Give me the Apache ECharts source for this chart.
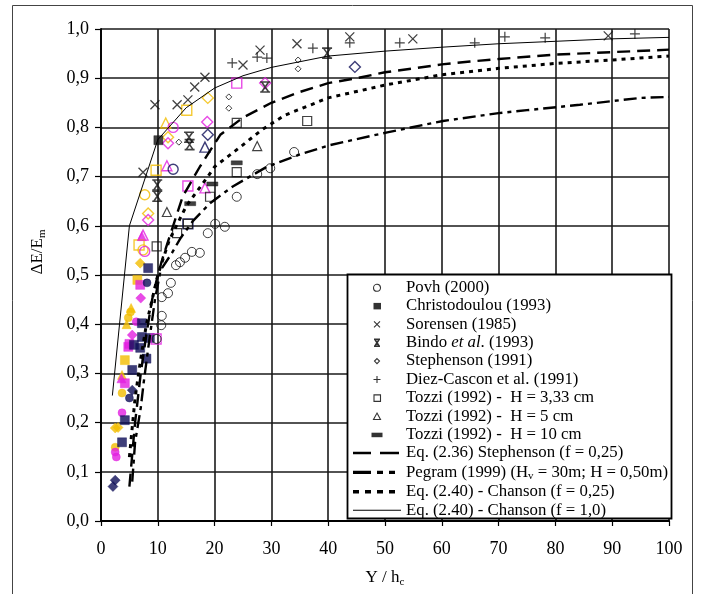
<!DOCTYPE html>
<html>
<head>
<meta charset="utf-8">
<script src="https://cdn.jsdelivr.net/npm/echarts/dist/echarts.min.js"></script>
<style>
  html, body { margin: 0; padding: 0; background: #fff; }
  #chart { width: 703px; height: 594px; }
</style>
</head>
<body>
<div id="chart"></div>
<script>
// Axis tick labels (decimal comma)
const xTickLabels = ['0','10','20','30','40','50','60','70','80','90','100'];
const yTickLabels = ['0,0','0,1','0,2','0,3','0,4','0,5','0,6','0,7','0,8','0,9','1,0'];

// Measured points [Y/hc, dE/Em]
const povh = [[9.8,0.37],[10.6,0.398],[10.7,0.417],[10.7,0.455],[11.8,0.463],[12.3,0.484],[13.2,0.52],[13.9,0.526],[14.8,0.535],[16.0,0.547],[17.4,0.545],[18.8,0.585],[20.1,0.604],[21.8,0.598],[23.9,0.659],[27.5,0.705],[29.8,0.717],[34.0,0.75]];
const christodoulou = [[10.1,0.774]];
const sorensen = [[7.4,0.709],[9.5,0.846],[13.4,0.846],[15.3,0.856],[16.5,0.882],[18.3,0.902],[25.0,0.927],[28.0,0.957],[34.5,0.97],[43.8,0.984],[54.9,0.98],[89.3,0.986]];
const bindo = [[9.9,0.683],[9.9,0.66],[15.5,0.78],[15.6,0.765],[28.9,0.882],[39.8,0.951]];
const stephenson1991 = [[13.7,0.77],[22.5,0.862],[22.5,0.839],[34.7,0.937],[34.7,0.919]];
const diezCascon = [[23.1,0.931],[27.5,0.943],[29.2,0.941],[37.3,0.961],[43.8,0.972],[52.6,0.972],[65.8,0.972],[71.1,0.984],[78.2,0.982],[94.0,0.99]];
const tozzi333 = [[9.8,0.558],[13.4,0.585],[15.3,0.604],[19.2,0.659],[23.9,0.709],[23.9,0.809],[36.3,0.813]];
const tozzi5 = [[11.6,0.628],[27.5,0.762]];
const tozzi10 = [[23.9,0.728],[19.6,0.685],[15.7,0.645]];

// Coloured step data
const goldFilledCircles = [[4.8,0.413],[3.7,0.26],[2.5,0.15],[5.2,0.425]];
const goldFilledSquares = [[4.2,0.327],[6.4,0.49]];
const goldFilledTriangles = [[5.3,0.433],[3.7,0.297],[4.5,0.4]];
const goldFilledDiamonds = [[6.9,0.524],[2.5,0.189],[3.0,0.19]];
const magentaFilledSquares = [[6.9,0.48],[4.8,0.354],[4.2,0.28],[5.0,0.36]];
const magentaFilledDiamonds = [[7.0,0.453],[5.5,0.378]];
const magentaFilledCircles = [[3.7,0.22],[2.5,0.14],[2.7,0.13],[6.2,0.405]];
const magentaFilledTriangles = [[7.2,0.579],[3.6,0.29]];
const navyFilledSquares = [[8.3,0.514],[7.2,0.374],[8.6,0.372],[6.9,0.352],[5.5,0.307],[5.8,0.358],[7.2,0.402],[4.2,0.205],[3.7,0.16],[8.0,0.33]];
const navyFilledCircles = [[8.1,0.484],[5.0,0.25]];
const navyFilledDiamonds = [[5.5,0.266],[2.5,0.083],[2.1,0.07]];
const goldOpenSquares = [[9.7,0.713],[15.1,0.835],[6.7,0.561]];
const goldOpenDiamonds = [[18.8,0.86],[11.8,0.78],[8.3,0.625]];
const goldOpenCircles = [[7.7,0.663],[7.4,0.551]];
const goldOpenTriangles = [[11.4,0.809]];
const magentaOpenSquares = [[23.9,0.89],[15.3,0.681],[9.7,0.37]];
const magentaOpenDiamonds = [[18.7,0.811],[11.8,0.768],[8.3,0.612],[28.9,0.89]];
const magentaOpenCircles = [[12.7,0.8],[7.7,0.548]];
const magentaOpenTriangles = [[11.6,0.722],[18.3,0.677],[7.4,0.581]];
const navyOpenDiamonds = [[18.8,0.785],[44.7,0.923]];
const navyOpenTriangles = [[18.3,0.76]];
const navyOpenCircles = [[12.7,0.715]];
const navyOpenSquares = [[15.3,0.604]];

// Equation curves
const eq236Stephenson = [[5,0.07],[6,0.2],[7,0.3],[8,0.38],[9,0.45],[10,0.5],[11,0.54],[12.7,0.6],[14.4,0.66],[17.4,0.72],[21,0.785],[25,0.82],[30,0.85],[35,0.872],[40,0.89],[45,0.9],[50,0.912],[55,0.92],[60,0.928],[65,0.934],[70,0.939],[80,0.948],[90,0.953],[100,0.958]];
const pegram1999 = [[5.5,0.08],[6,0.16],[7,0.23],[7.5,0.28],[8.3,0.35],[9.5,0.45],[10.5,0.51],[12.5,0.545],[14,0.575],[16.2,0.61],[19.2,0.646],[23.2,0.68],[29.2,0.72],[35,0.745],[40.3,0.764],[50.4,0.79],[60.2,0.813],[70,0.829],[75,0.835],[84.3,0.846],[95,0.86],[100,0.862]];
const eq240Chanson025 = [[5,0.13],[6,0.25],[7,0.33],[8,0.4],[10,0.5],[12,0.57],[15,0.64],[18.8,0.7],[20,0.72],[24.5,0.76],[28.3,0.795],[32.4,0.825],[40,0.86],[50,0.886],[60,0.907],[70,0.92],[80,0.93],[90,0.937],[100,0.945]];
const eq240Chanson10 = [[2,0.255],[5,0.6],[10,0.775],[15,0.84],[20,0.88],[25,0.905],[30,0.922],[40,0.945],[50,0.955],[60,0.963],[70,0.97],[80,0.975],[90,0.98],[100,0.983]];

const GOLD = '#F3BD00', MAGENTA = '#E21EE0', NAVY = '#0E0E58', INK = '#111';
const CLEAR = 'rgba(0,0,0,0)';
const SERIF = '"Liberation Serif", "DejaVu Serif", serif';

const CROSS = 'path://M0,0L10,10M10,0L0,10';
const PLUS = 'path://M5,0L5,10M0,5L10,5';
const STAR_X = 'path://M0,0L10,0M0,10L10,10M1.5,0L8.5,10M8.5,0L1.5,10';

// Legend keys: the leading moveTo pairs fix each key's box so it keeps its drawn size.
const KEY = {
  circle:   'path://M0 0 M8 8 M7.5 4 A3.5 3.5 0 1 1 7.49 3.9 Z',
  square:   'path://M0 0 M8 8 M0.5 1 h7.5 v6.5 h-7.5 Z',
  cross:    'path://M0 0 M8 8 M1 1 L7 7 M7 1 L1 7',
  starX:    'path://M0 0 M8 8 M1 0.5 L7 0.5 M1 7.5 L7 7.5 M1.8 0.5 L6.2 7.5 M6.2 0.5 L1.8 7.5',
  diamond:  'path://M0 0 M8 8 M4 1.5 L6.5 4 L4 6.5 L1.5 4 Z',
  plus:     'path://M0 0 M8 8 M4 0.5 L4 7.5 M0.5 4 L7.5 4',
  box:      'path://M0 0 M8 8 M1 1 h6.5 v6.5 h-6.5 Z',
  triangle: 'path://M0 0 M8 8 M4 0.8 L7.5 7.2 L0.5 7.2 Z',
  bar:      'path://M0 0 M20 8 M4.5 2 h11 v4.5 h-11 Z',
  longDash: 'path://M0 0 M48 8 M0 2.6 h18 v2.6 h-18 Z M27 2.6 h19 v2.6 h-19 Z',
  dashDot:  'path://M0 0 M48 8 M0 2.2 h18 v3.4 h-18 Z M24 2.2 h6 v3.4 h-6 Z M36 2.2 h6 v3.4 h-6 Z',
  dots:     'path://M0 0 M48 8 M0 2.2 h6 v3.4 h-6 Z M12 2.2 h6 v3.4 h-6 Z M24 2.2 h6 v3.4 h-6 Z M36 2.2 h6 v3.4 h-6 Z',
  thin:     'path://M0 0 M48 8 M0 3.5 h48 v1 h-48 Z'
};

function markers(name, data, symbol, size, opts) {
  opts = opts || {};
  const colour = opts.colour || INK;
  return {
    name: name,
    type: 'scatter',
    data: data,
    symbol: symbol,
    symbolSize: size,
    z: opts.z || 3,
    itemStyle: opts.outline
      ? { color: CLEAR, borderColor: colour, borderWidth: opts.bw || 1.4 }
      : { color: colour, borderColor: colour, borderWidth: 0.5 },
    emphasis: { disabled: true }
  };
}

function curve(name, data, width, dash) {
  return {
    name: name,
    type: 'line',
    data: data,
    color: '#000',
    showSymbol: false,
    symbol: 'none',
    z: 4,
    lineStyle: { color: '#000', width: width, type: dash, cap: 'butt' },
    emphasis: { disabled: true }
  };
}

const colouredGroups = [
  [goldFilledCircles, 'circle', 8, GOLD, false],
  [goldFilledSquares, 'rect', 9, GOLD, false],
  [goldFilledTriangles, 'triangle', 9, GOLD, false],
  [goldFilledDiamonds, 'diamond', 10, GOLD, false],
  [magentaFilledSquares, 'rect', 9, MAGENTA, false],
  [magentaFilledDiamonds, 'diamond', 10, MAGENTA, false],
  [magentaFilledCircles, 'circle', 8, MAGENTA, false],
  [magentaFilledTriangles, 'triangle', 9, MAGENTA, false],
  [navyFilledSquares, 'rect', 9, NAVY, false],
  [navyFilledCircles, 'circle', 8, NAVY, false],
  [navyFilledDiamonds, 'diamond', 10, NAVY, false],
  [goldOpenSquares, 'rect', 10, GOLD, true],
  [goldOpenDiamonds, 'diamond', 11, GOLD, true],
  [goldOpenCircles, 'circle', 10, GOLD, true],
  [goldOpenTriangles, 'triangle', 10, GOLD, true],
  [magentaOpenSquares, 'rect', 10, MAGENTA, true],
  [magentaOpenDiamonds, 'diamond', 11, MAGENTA, true],
  [magentaOpenCircles, 'circle', 10, MAGENTA, true],
  [magentaOpenTriangles, 'triangle', 10, MAGENTA, true],
  [navyOpenDiamonds, 'diamond', 11, NAVY, true],
  [navyOpenTriangles, 'triangle', 10, NAVY, true],
  [navyOpenCircles, 'circle', 10, NAVY, true],
  [navyOpenSquares, 'rect', 10, NAVY, true]
];

const legendNames = [
  'Povh (2000)',
  'Christodoulou (1993)',
  'Sorensen (1985)',
  'Bindo et al. (1993)',
  'Stephenson (1991)',
  'Diez-Cascon et al. (1991)',
  'Tozzi (1992) -  H = 3,33 cm',
  'Tozzi (1992) -  H = 5 cm',
  'Tozzi (1992) -  H = 10 cm',
  'Eq. (2.36) Stephenson (f = 0,25)',
  'Pegram (1999) (Hv = 30m; H = 0,50m)',
  'Eq. (2.40) - Chanson (f = 0,25)',
  'Eq. (2.40) - Chanson (f = 1,0)'
];

const outlineKey = { color: CLEAR, borderColor: '#000', borderWidth: 1.1 };
const solidKey = { color: '#000', borderColor: CLEAR, borderWidth: 0 };
const legendKeys = [
  [KEY.circle, outlineKey],
  [KEY.square, solidKey],
  [KEY.cross, outlineKey],
  [KEY.starX, { color: CLEAR, borderColor: '#000', borderWidth: 1.6 }],
  [KEY.diamond, outlineKey],
  [KEY.plus, outlineKey],
  [KEY.box, outlineKey],
  [KEY.triangle, outlineKey],
  [KEY.bar, solidKey],
  [KEY.longDash, solidKey],
  [KEY.dashDot, solidKey],
  [KEY.dots, solidKey],
  [KEY.thin, solidKey]
];

const series = [];
colouredGroups.forEach(function (g, i) {
  series.push(markers('group' + i, g[0], g[1], g[2], { colour: g[3], outline: g[4], z: 2 }));
});
series.push(
  markers(legendNames[0], povh, 'circle', 9, { outline: true, bw: 1 }),
  markers(legendNames[1], christodoulou, 'rect', 9, {}),
  markers(legendNames[2], sorensen, CROSS, 9, { outline: true, bw: 1.3 }),
  markers(legendNames[3], bindo, STAR_X, 10, { outline: true, bw: 1.6 }),
  markers(legendNames[4], stephenson1991, 'diamond', 6, { outline: true, bw: 1 }),
  markers(legendNames[5], diezCascon, PLUS, 10, { outline: true, bw: 1.2 }),
  markers(legendNames[6], tozzi333, 'rect', 9, { outline: true, bw: 1.2 }),
  markers(legendNames[7], tozzi5, 'triangle', 9, { outline: true, bw: 1.2 }),
  markers(legendNames[8], tozzi10, 'rect', [11, 4], {}),
  curve(legendNames[9], eq236Stephenson, 2.4, [13, 7]),
  curve(legendNames[10], pegram1999, 2.4, [13, 5, 4, 5]),
  curve(legendNames[11], eq240Chanson025, 3, [4, 5]),
  curve(legendNames[12], eq240Chanson10, 1, 'solid')
);

const chart = echarts.init(document.getElementById('chart'), null, { renderer: 'canvas' });

chart.setOption({
  animation: false,
  backgroundColor: '#fff',
  textStyle: { fontFamily: SERIF },
  grid: { left: 101, right: 34, top: 29, bottom: 73, containLabel: false },
  xAxis: {
    type: 'value', min: 0, max: 100, interval: 10,
    axisLine: { show: true, onZero: false, lineStyle: { color: '#000', width: 1.8 } },
    axisTick: { show: true, length: 5, lineStyle: { color: '#000', width: 1.2 } },
    axisLabel: {
      margin: 19, color: '#000', fontSize: 18, fontFamily: SERIF,
      formatter: function (v) { return xTickLabels[Math.round(v / 10)]; }
    },
    splitLine: { show: true, lineStyle: { color: '#1a1a1a', width: 1.6 } }
  },
  yAxis: {
    type: 'value', min: 0, max: 1, interval: 0.1,
    axisLine: { show: true, onZero: false, lineStyle: { color: '#000', width: 1.8 } },
    axisTick: { show: true, length: 6, lineStyle: { color: '#000', width: 1.2 } },
    axisLabel: {
      margin: 12, color: '#000', fontSize: 18, fontFamily: SERIF,
      formatter: function (v) { return yTickLabels[Math.round(v * 10)]; }
    },
    splitLine: { show: true, lineStyle: { color: '#1a1a1a', width: 1.6 } }
  },
  legend: {
    data: legendNames.map(function (n, i) {
      return { name: n, icon: legendKeys[i][0], itemStyle: legendKeys[i][1] };
    }),
    orient: 'vertical',
    left: 353, top: 279,
    padding: 0,
    itemWidth: 48, itemHeight: 8, itemGap: 1.4,
    symbolKeepAspect: true,
    selectedMode: false,
    inactiveColor: '#000',
    textStyle: {
      fontFamily: SERIF, fontSize: 16.8, color: '#000', lineHeight: 17,
      rich: {
        n: { fontFamily: SERIF, fontSize: 16.8, color: '#000', lineHeight: 17 },
        i: { fontFamily: SERIF, fontSize: 16.8, color: '#000', fontStyle: 'italic', lineHeight: 17 },
        s: { fontFamily: SERIF, fontSize: 11, color: '#000', padding: [8, 0, 0, 0], lineHeight: 17 }
      }
    },
    formatter: function (name) {
      if (name === legendNames[3]) return '{n|Bindo }{i|et al}{n|. (1993)}';
      if (name === legendNames[10]) return '{n|Pegram (1999) (H}{s|v}{n| = 30m; H = 0,50m)}';
      return '{n|' + name + '}';
    }
  },
  graphic: [
    {
      type: 'rect', z: 3, silent: true,
      shape: { x: 347.5, y: 274.5, width: 324, height: 244 },
      style: { fill: '#fff', stroke: '#000', lineWidth: 1.8 }
    },
    {
      type: 'rect', z: 0, silent: true,
      shape: { x: 12.5, y: 5.5, width: 680, height: 600 },
      style: { fill: 'none', stroke: '#444', lineWidth: 1 }
    },
    {
      type: 'text', silent: true, z: 5,
      x: 38, y: 252, rotation: Math.PI / 2,
      style: {
        text: '{a|ΔE/E}{s|m}', align: 'center', verticalAlign: 'middle',
        rich: {
          a: { fontFamily: SERIF, fontSize: 17, fill: '#000' },
          s: { fontFamily: SERIF, fontSize: 11, fill: '#000', padding: [8, 0, 0, 0] }
        }
      }
    },
    {
      type: 'text', silent: true, z: 5,
      x: 385, y: 578,
      style: {
        text: '{a|Y / h}{s|c}', align: 'center', verticalAlign: 'middle',
        rich: {
          a: { fontFamily: SERIF, fontSize: 17, fill: '#000' },
          s: { fontFamily: SERIF, fontSize: 11, fill: '#000', padding: [8, 0, 0, 0] }
        }
      }
    }
  ],
  series: series
});
</script>
</body>
</html>
